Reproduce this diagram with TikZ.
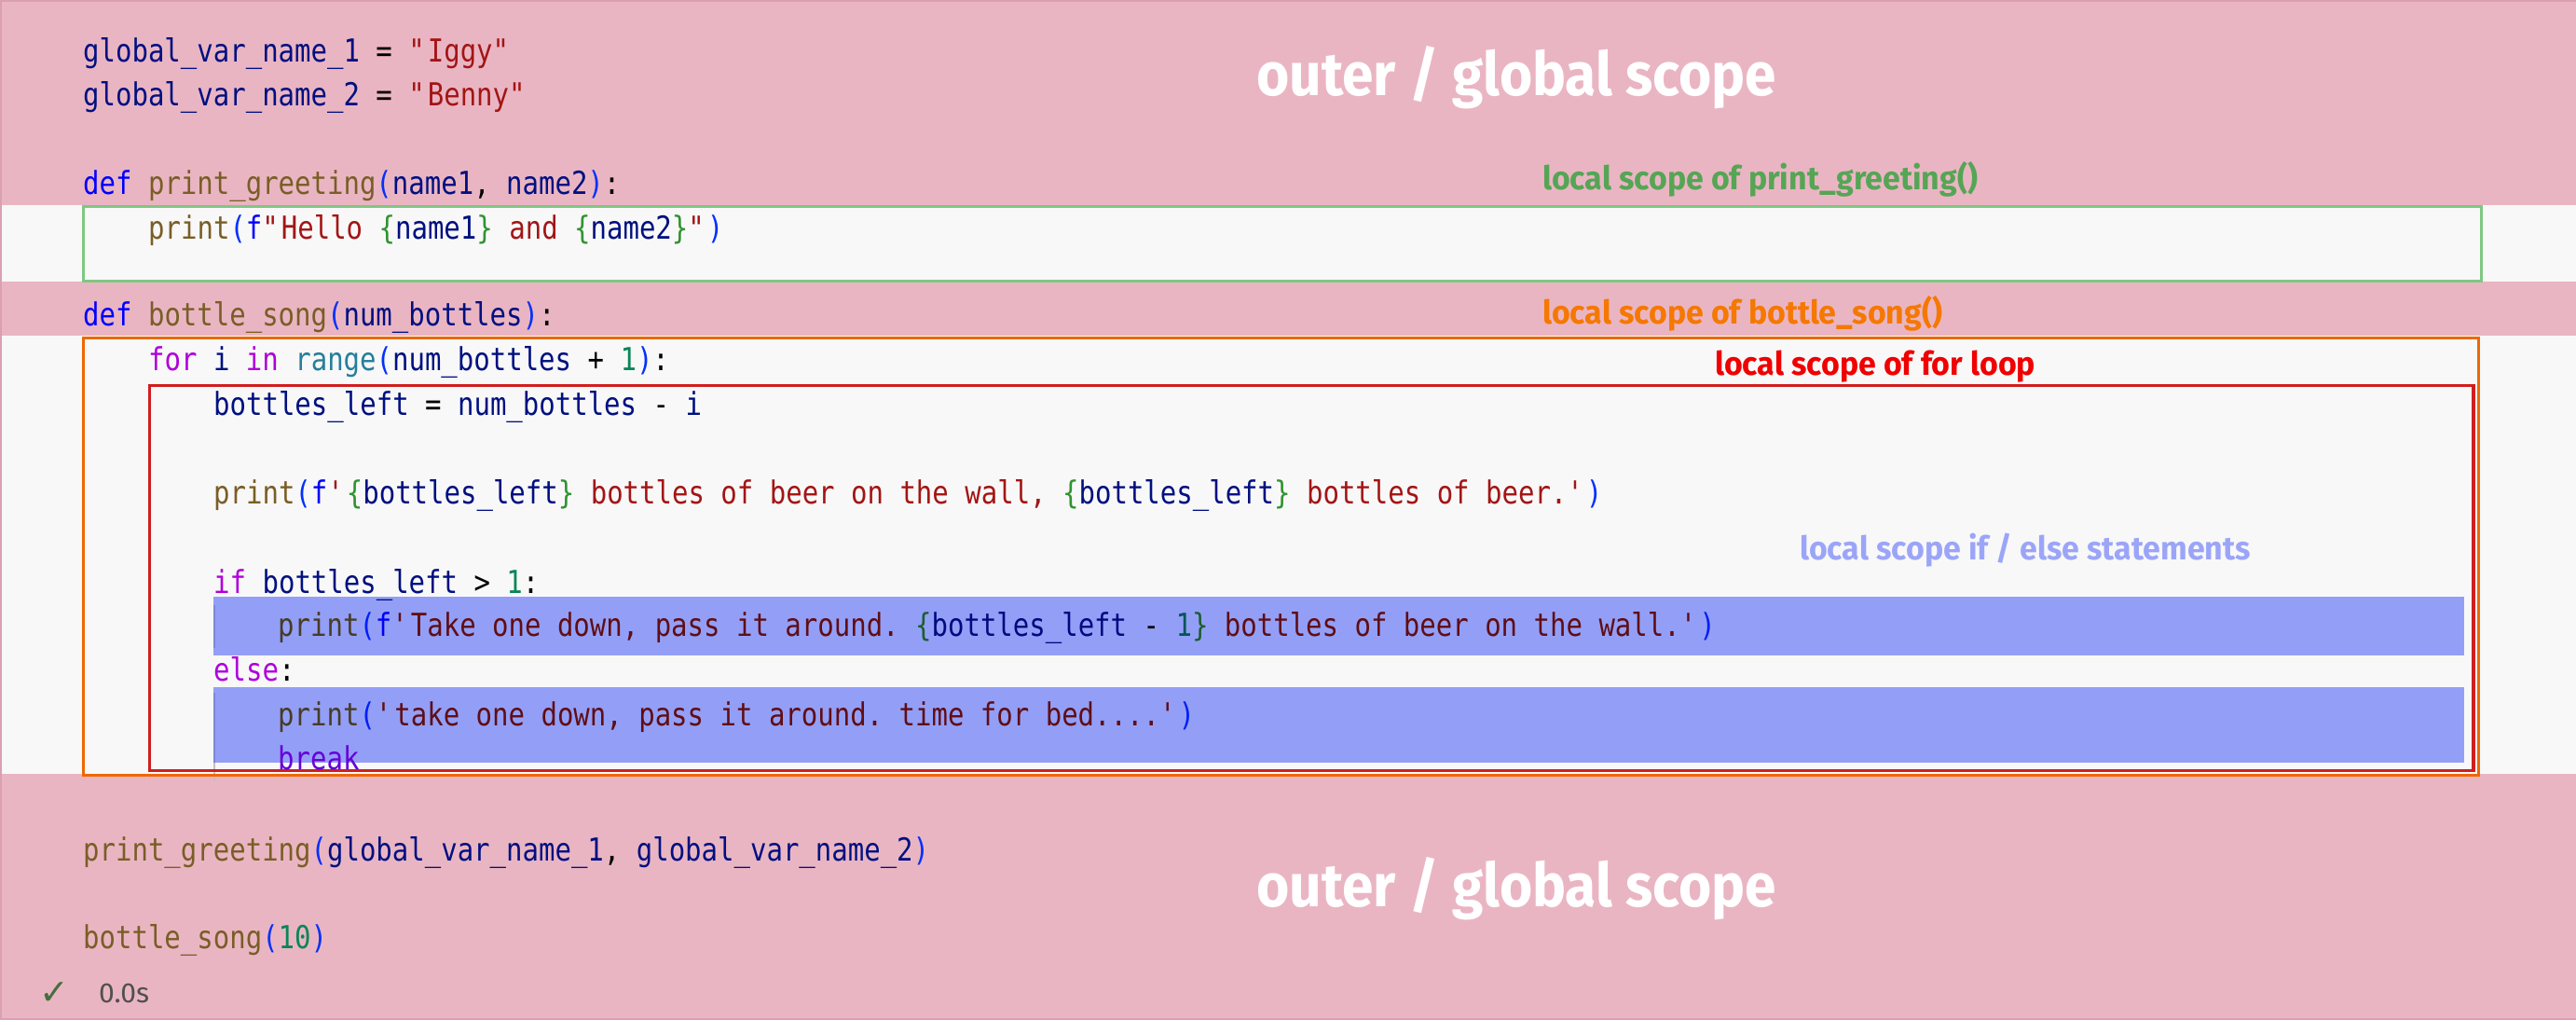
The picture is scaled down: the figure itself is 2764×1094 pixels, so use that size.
\documentclass[tikz,border=0pt]{standalone}
\usepackage{fontspec}
\setmonofont{DejaVu Sans Mono}[FakeStretch=0.853]
\newfontfamily\biglblfont{Fira Sans}[FakeStretch=0.93]
\newfontfamily\smalllblfont{Fira Sans}[FakeStretch=0.97]
\newfontfamily\lblfont{Fira Sans}
\newfontfamily\symfont{DejaVu Sans}

\definecolor{pinkbg}{RGB}{234,181,195}
\definecolor{grayband}{RGB}{248,248,248}
\definecolor{borderc}{RGB}{218,160,177}
\definecolor{greenbox}{RGB}{126,200,130}
\definecolor{orangebox}{RGB}{238,104,0}
\definecolor{redbox}{RGB}{208,30,30}
\definecolor{bluehl}{RGB}{147,159,247}
\definecolor{guidec}{RGB}{200,190,195}
\definecolor{bguide}{RGB}{125,135,215}
\definecolor{lblgreen}{RGB}{85,165,85}
\definecolor{lblorange}{RGB}{245,120,0}
\definecolor{lblred}{RGB}{240,0,0}
\definecolor{lblblue}{RGB}{155,165,248}
\definecolor{checkc}{RGB}{70,110,60}
\definecolor{timec}{RGB}{80,80,80}
% token colours (on gray / pink)
\definecolor{cVn}{RGB}{0,16,128}
\definecolor{cSn}{RGB}{163,21,21}
\definecolor{cFn}{RGB}{121,94,38}
\definecolor{cKn}{RGB}{0,0,255}
\definecolor{cCn}{RGB}{175,0,219}
\definecolor{cNn}{RGB}{9,134,88}
\definecolor{cTn}{RGB}{38,127,153}
\definecolor{cPn}{RGB}{4,49,250}
\definecolor{cBn}{RGB}{49,147,49}
% token colours on blue highlight
\definecolor{cVb}{RGB}{0,10,127}
\definecolor{cSb}{RGB}{96,13,21}
\definecolor{cFb}{RGB}{71,60,38}
\definecolor{cKb}{RGB}{0,0,250}
\definecolor{cCb}{RGB}{103,0,216}
\definecolor{cNb}{RGB}{5,86,87}
\definecolor{cPb}{RGB}{2,31,247}
\definecolor{cBb}{RGB}{29,94,48}
\colorlet{cV}{cVn}\colorlet{cS}{cSn}\colorlet{cF}{cFn}\colorlet{cK}{cKn}
\colorlet{cC}{cCn}\colorlet{cN}{cNn}\colorlet{cT}{cTn}\colorlet{cP}{cPn}\colorlet{cB}{cBn}

\newcommand\tkV[1]{\textcolor{cV}{#1}}
\newcommand\tkS[1]{\textcolor{cS}{#1}}
\newcommand\tkF[1]{\textcolor{cF}{#1}}
\newcommand\tkK[1]{\textcolor{cK}{#1}}
\newcommand\tkC[1]{\textcolor{cC}{#1}}
\newcommand\tkN[1]{\textcolor{cN}{#1}}
\newcommand\tkT[1]{\textcolor{cT}{#1}}
\newcommand\tkP[1]{\textcolor{cP}{#1}}
\newcommand\tkB[1]{\textcolor{cB}{#1}}
\newcommand\tkO[1]{\textcolor{black}{#1}}
\newcommand\SQ{\textquotesingle}
\newcommand\DQ{\textquotedbl}
\newcommand\onblue{\colorlet{cV}{cVb}\colorlet{cS}{cSb}\colorlet{cF}{cFb}\colorlet{cK}{cKb}\colorlet{cC}{cCb}\colorlet{cN}{cNb}\colorlet{cP}{cPb}\colorlet{cB}{cBb}}

\begin{document}
\begin{tikzpicture}[x=1pt,y=-1pt,
  codeline/.style={anchor=base west, inner sep=0pt, font=\ttfamily\fontsize{34}{40}\selectfont},
  biglabel/.style={anchor=base west, inner sep=0pt, text=white, font=\biglblfont\bfseries\fontsize{65}{72}\selectfont},
  smalllabel/.style={anchor=base west, inner sep=0pt, font=\smalllblfont\bfseries\fontsize{35}{40}\selectfont},
  scopebox/.style={line width=3pt}]
\useasboundingbox (0,0) rectangle (2764,1094);
% backgrounds
\fill[pinkbg] (0,0) rectangle (2764,1094);
\fill[grayband] (0,220) rectangle (2764,302);
\fill[grayband] (0,360) rectangle (2764,830);
% outer border
\draw[borderc, line width=2pt] (2764,1) -- (1,1) -- (1,1093) -- (2764,1093);
% blue highlights (if / else bodies)
\fill[bluehl] (229,640) rectangle (2644,703);
\fill[bluehl] (229,737) rectangle (2644,818);
% indent guides
\draw[bguide, line width=1.5pt] (229.8,649) -- (229.8,695);
\draw[bguide, line width=1.5pt] (229.8,743) -- (229.8,818);
\draw[guidec, line width=1.5pt] (229.8,818) -- (229.8,838);
\draw[guidec, line width=1.5pt] (89.5,830) -- (89.5,838);
\draw[guidec, line width=1.5pt] (160.5,830) -- (160.5,838);
% scope boxes
\draw[scopebox, greenbox] (89.5,221.5) rectangle (2662,301.5);
\draw[scopebox, orangebox] (89.5,362) rectangle (2659,831);
\draw[scopebox, redbox, line width=3.5pt] (160.5,413.5) rectangle (2654,826.5);

% code
\node[codeline] (l1) at (89,67) {\tkV{global\_var\_name\_1} \tkO{=} \tkS{\DQ Iggy\DQ}};
\node[codeline] (l2) at (89,114) {\tkV{global\_var\_name\_2} \tkO{=} \tkS{\DQ Benny\DQ}};
\node[codeline] (l3) at (89,208) {\tkK{def} \tkF{print\_greeting}\tkP{(}\tkV{name1}\tkO{,} \tkV{name2}\tkP{)}\tkO{:}};
\node[codeline] (l4) at (159,256) {\tkF{print}\tkP{(}\tkK{f}\tkS{\DQ Hello} \tkB{\{}\tkV{name1}\tkB{\}} \tkS{and} \tkB{\{}\tkV{name2}\tkB{\}}\tkS{\DQ}\tkP{)}};
\node[codeline] (l5) at (89,349) {\tkK{def} \tkF{bottle\_song}\tkP{(}\tkV{num\_bottles}\tkP{)}\tkO{:}};
\node[codeline] (l6) at (159,397) {\tkC{for} \tkV{i} \tkC{in} \tkT{range}\tkP{(}\tkV{num\_bottles} \tkO{+} \tkN{1}\tkP{)}\tkO{:}};
\node[codeline] (l7) at (229,445) {\tkV{bottles\_left} \tkO{=} \tkV{num\_bottles} \tkO{-} \tkV{i}};
\node[codeline] (l8) at (229,540) {\tkF{print}\tkP{(}\tkK{f}\tkS{\SQ}\tkB{\{}\tkV{bottles\_left}\tkB{\}} \tkS{bottles of beer on the wall,} \tkB{\{}\tkV{bottles\_left}\tkB{\}} \tkS{bottles of beer.\SQ}\tkP{)}};
\node[codeline] (l9) at (229,636) {\tkC{if} \tkV{bottles\_left} \tkO{>} \tkN{1}\tkO{:}};
\node[codeline] (l10) at (298,682) {\onblue\tkF{print}\tkP{(}\tkK{f}\tkS{\SQ Take one down, pass it around.} \tkB{\{}\tkV{bottles\_left} \tkO{-} \tkN{1}\tkB{\}} \tkS{bottles of beer on the wall.\SQ}\tkP{)}};
\node[codeline] (l11) at (229,730) {\tkC{else}\tkO{:}};
\node[codeline] (l12) at (298,778) {\onblue\tkF{print}\tkP{(}\tkS{\SQ take one down, pass it around. time for bed....\SQ}\tkP{)}};
\node[codeline] (l13) at (298,825) {\onblue\tkC{break}};
\node[codeline] (l14) at (89,923) {\tkF{print\_greeting}\tkP{(}\tkV{global\_var\_name\_1}\tkO{,} \tkV{global\_var\_name\_2}\tkP{)}};
\node[codeline] (l15) at (89,1017) {\tkF{bottle\_song}\tkP{(}\tkN{10}\tkP{)}};
\node[anchor=base west, inner sep=0pt, text=checkc, font=\symfont\fontsize{38}{44}\selectfont] (chk) at (42,1077) {✓};
\node[anchor=base west, inner sep=0pt, text=timec, font=\lblfont\fontsize{30}{36}\selectfont] (time) at (106,1075) {0.0s};

% scope labels
\node[biglabel] (outertop) at (1348,103) {outer / global scope};
\node[biglabel] (outerbot) at (1348,972) {outer / global scope};
\node[smalllabel, text=lblgreen] (lgreet) at (1655,204) {local scope of print\_greeting()};
\node[smalllabel, text=lblorange] (lsong) at (1655,347) {local scope of bottle\_song()};
\node[smalllabel, text=lblred] (lfor) at (1840,402) {local scope of for loop};
\node[smalllabel, text=lblblue] (lif) at (1931,600) {local scope if / else statements};
\end{tikzpicture}
\end{document}
